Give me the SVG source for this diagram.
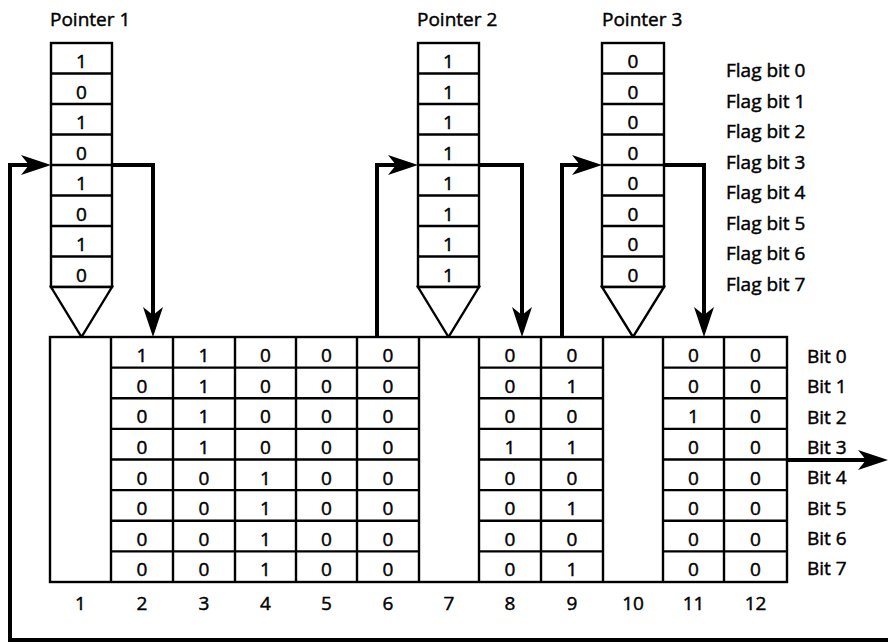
<svg xmlns="http://www.w3.org/2000/svg" width="888" height="644" viewBox="0 0 888 644">
<style>
.box{fill:#fff;stroke:#000;stroke-width:2.4}
.ln{stroke:#000;stroke-width:2.4;fill:none}
.con{stroke:#000;stroke-width:4;fill:none}
text{font-family:"Open Sans","Liberation Sans",sans-serif;font-size:19px;fill:#000;stroke:#000;stroke-width:0.45}
.c{text-anchor:middle}
</style>
<defs>
<marker id="ah" markerUnits="userSpaceOnUse" viewBox="0 0 30 20" refX="20" refY="10" markerWidth="30" markerHeight="20" orient="auto">
<path d="M0,0 L30,10 L0,20 L8,10 Z" fill="#000"/>
</marker>
</defs>
<rect width="888" height="644" fill="#fff"/>

<g id="pointer1">
<text x="50" y="26">Pointer 1</text>
<rect class="box" x="51" y="43" width="61" height="244"/>
<path class="ln" d="M51,73.5H112M51,104H112M51,134.5H112M51,165H112M51,195.5H112M51,226H112M51,256.5H112"/>
<polygon class="box" points="51,287 112,287 81.5,337"/>
<g class="c">
<text x="81.5" y="68">1</text><text x="81.5" y="98.5">0</text><text x="81.5" y="129">1</text><text x="81.5" y="159.5">0</text>
<text x="81.5" y="190">1</text><text x="81.5" y="220.5">0</text><text x="81.5" y="251">1</text><text x="81.5" y="281.5">0</text>
</g>
</g>

<g id="pointer2">
<text x="417" y="26">Pointer 2</text>
<rect class="box" x="418" y="43" width="61" height="244"/>
<path class="ln" d="M418,73.5H479M418,104H479M418,134.5H479M418,165H479M418,195.5H479M418,226H479M418,256.5H479"/>
<polygon class="box" points="418,287 479,287 448.5,337"/>
<g class="c">
<text x="448.5" y="68">1</text><text x="448.5" y="98.5">1</text><text x="448.5" y="129">1</text><text x="448.5" y="159.5">1</text>
<text x="448.5" y="190">1</text><text x="448.5" y="220.5">1</text><text x="448.5" y="251">1</text><text x="448.5" y="281.5">1</text>
</g>
</g>

<g id="pointer3">
<text x="602" y="26">Pointer 3</text>
<rect class="box" x="602" y="43" width="62" height="244"/>
<path class="ln" d="M602,73.5H664M602,104H664M602,134.5H664M602,165H664M602,195.5H664M602,226H664M602,256.5H664"/>
<polygon class="box" points="602,287 664,287 633,337"/>
<g class="c">
<text x="633" y="68">0</text><text x="633" y="98.5">0</text><text x="633" y="129">0</text><text x="633" y="159.5">0</text>
<text x="633" y="190">0</text><text x="633" y="220.5">0</text><text x="633" y="251">0</text><text x="633" y="281.5">0</text>
</g>
</g>

<g id="flag-labels">
<text x="726" y="77">Flag bit 0</text>
<text x="726" y="107.5">Flag bit 1</text>
<text x="726" y="138">Flag bit 2</text>
<text x="726" y="168.5">Flag bit 3</text>
<text x="726" y="199">Flag bit 4</text>
<text x="726" y="229.5">Flag bit 5</text>
<text x="726" y="260">Flag bit 6</text>
<text x="726" y="290.5">Flag bit 7</text>
</g>

<g id="table">
<rect class="box" x="50" y="337" width="737" height="245"/>
<path class="ln" d="M111,337V582M173,337V582M235,337V582M296,337V582M357,337V582M419,337V582M479,337V582M541,337V582M603,337V582M663,337V582M724,337V582"/>
<path class="ln" d="M111,367.6H419M111,398.25H419M111,428.9H419M111,459.5H419M111,490.1H419M111,520.75H419M111,551.4H419"/>
<path class="ln" d="M479,367.6H603M479,398.25H603M479,428.9H603M479,459.5H603M479,490.1H603M479,520.75H603M479,551.4H603"/>
<path class="ln" d="M663,367.6H787M663,398.25H787M663,428.9H787M663,459.5H787M663,490.1H787M663,520.75H787M663,551.4H787"/>
<g class="c">
<text x="142" y="362">1</text><text x="204" y="362">1</text><text x="265.5" y="362">0</text><text x="326.5" y="362">0</text><text x="388" y="362">0</text><text x="510" y="362">0</text><text x="572" y="362">0</text><text x="693.5" y="362">0</text><text x="755.5" y="362">0</text>
<text x="142" y="392.6">0</text><text x="204" y="392.6">1</text><text x="265.5" y="392.6">0</text><text x="326.5" y="392.6">0</text><text x="388" y="392.6">0</text><text x="510" y="392.6">0</text><text x="572" y="392.6">1</text><text x="693.5" y="392.6">0</text><text x="755.5" y="392.6">0</text>
<text x="142" y="423.25">0</text><text x="204" y="423.25">1</text><text x="265.5" y="423.25">0</text><text x="326.5" y="423.25">0</text><text x="388" y="423.25">0</text><text x="510" y="423.25">0</text><text x="572" y="423.25">0</text><text x="693.5" y="423.25">1</text><text x="755.5" y="423.25">0</text>
<text x="142" y="453.9">0</text><text x="204" y="453.9">1</text><text x="265.5" y="453.9">0</text><text x="326.5" y="453.9">0</text><text x="388" y="453.9">0</text><text x="510" y="453.9">1</text><text x="572" y="453.9">1</text><text x="693.5" y="453.9">0</text><text x="755.5" y="453.9">0</text>
<text x="142" y="484.5">0</text><text x="204" y="484.5">0</text><text x="265.5" y="484.5">1</text><text x="326.5" y="484.5">0</text><text x="388" y="484.5">0</text><text x="510" y="484.5">0</text><text x="572" y="484.5">0</text><text x="693.5" y="484.5">0</text><text x="755.5" y="484.5">0</text>
<text x="142" y="515.1">0</text><text x="204" y="515.1">0</text><text x="265.5" y="515.1">1</text><text x="326.5" y="515.1">0</text><text x="388" y="515.1">0</text><text x="510" y="515.1">0</text><text x="572" y="515.1">1</text><text x="693.5" y="515.1">0</text><text x="755.5" y="515.1">0</text>
<text x="142" y="545.75">0</text><text x="204" y="545.75">0</text><text x="265.5" y="545.75">1</text><text x="326.5" y="545.75">0</text><text x="388" y="545.75">0</text><text x="510" y="545.75">0</text><text x="572" y="545.75">0</text><text x="693.5" y="545.75">0</text><text x="755.5" y="545.75">0</text>
<text x="142" y="576.4">0</text><text x="204" y="576.4">0</text><text x="265.5" y="576.4">1</text><text x="326.5" y="576.4">0</text><text x="388" y="576.4">0</text><text x="510" y="576.4">0</text><text x="572" y="576.4">1</text><text x="693.5" y="576.4">0</text><text x="755.5" y="576.4">0</text>
</g>
<g class="c">
<text x="80.5" y="610">1</text><text x="142" y="610">2</text><text x="204" y="610">3</text><text x="265.5" y="610">4</text><text x="326.5" y="610">5</text><text x="388" y="610">6</text><text x="449" y="610">7</text><text x="510" y="610">8</text><text x="572" y="610">9</text><text x="633" y="610">10</text><text x="693.5" y="610">11</text><text x="755.5" y="610">12</text>
</g>
</g>

<g id="bit-labels">
<text x="807" y="363">Bit 0</text>
<text x="807" y="393.3">Bit 1</text>
<text x="807" y="423.6">Bit 2</text>
<text x="807" y="453.9">Bit 3</text>
<text x="807" y="484.2">Bit 4</text>
<text x="807" y="514.5">Bit 5</text>
<text x="807" y="544.8">Bit 6</text>
<text x="807" y="575.1">Bit 7</text>
</g>

<g id="connectors">
<path class="con" d="M888,640H10V165H41" marker-end="url(#ah)"/>
<path class="con" d="M112,165H153V327" marker-end="url(#ah)"/>
<path class="con" d="M377,337V165H408" marker-end="url(#ah)"/>
<path class="con" d="M479,165H522V327" marker-end="url(#ah)"/>
<path class="con" d="M562,337V165H592" marker-end="url(#ah)"/>
<path class="con" d="M664,165H704V327" marker-end="url(#ah)"/>
<path class="con" d="M787,460H878" marker-end="url(#ah)"/>
</g>
</svg>
